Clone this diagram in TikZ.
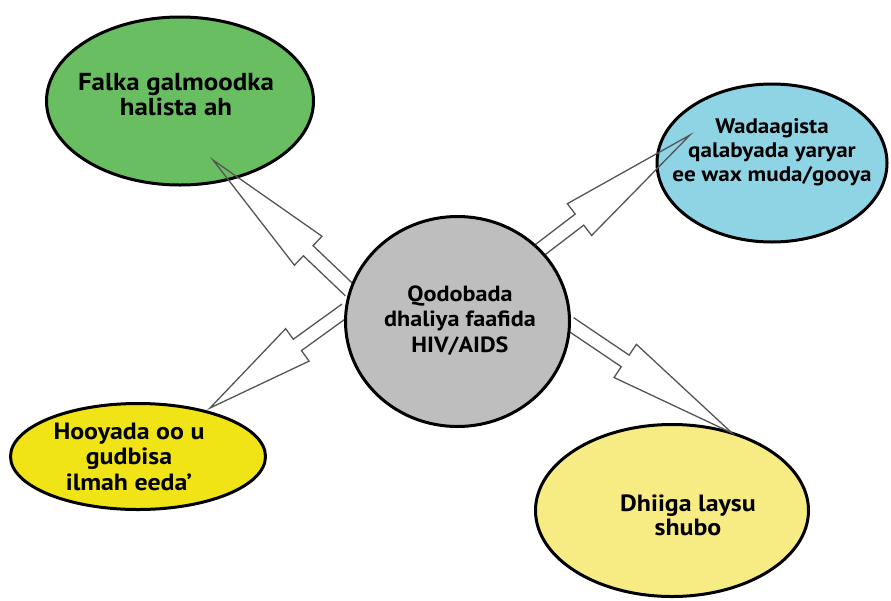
\documentclass[tikz,border=0pt]{standalone}
\usepackage{fontspec}
\setmainfont[FakeStretch=1.1]{PT Sans}
\usetikzlibrary{calc,shapes.geometric}
\definecolor{gfill}{RGB}{106,190,98}
\definecolor{bfill}{RGB}{142,212,228}
\definecolor{cfill}{RGB}{190,190,190}
\definecolor{yfill}{RGB}{240,228,22}
\definecolor{lyfill}{RGB}{247,236,132}
\definecolor{boltgray}{RGB}{85,85,85}
\tikzset{
  bubble/.style={ellipse, draw=black, line width=3pt, inner sep=0pt},
  bubbletext/.style={align=center, anchor=base, inner sep=0pt, text=black},
  bolt/.style={draw=boltgray, line width=1.3pt, line join=miter},
}
\newcommand\boltarrow[3]{%
  \draw[bolt] let \p1=(#1), \p2=(#2), \n1={atan2(\y2-\y1,\x2-\x1)} in
    ($(\p1)+(\n1+90:7pt)$) -- ($(\p1)+(\n1:#3)+(\n1+90:7pt)$)
    -- ($(\p1)+(\n1:#3)+(\n1+90:20pt)$) -- (\p2)
    -- ($(\p1)+(\n1:#3)+(\n1-90:20pt)$) -- ($(\p1)+(\n1:#3)+(\n1-90:7pt)$)
    -- ($(\p1)+(\n1-90:7pt)$);
}
\begin{document}
\begin{tikzpicture}[x=1pt,y=-1pt]
  \useasboundingbox[fill=white] (0,0) rectangle (891,600);
  % outer bubbles
  \node[bubble, fill=gfill, minimum width=267pt, minimum height=168pt] (g) at (180,101) {};
  \node[bubble, fill=bfill, minimum width=230pt, minimum height=158pt] (b) at (772,163) {};
  \node[bubble, fill=yfill, minimum width=255pt, minimum height=106pt] (y) at (138,456.5) {};
  \node[bubble, fill=lyfill, minimum width=273pt, minimum height=172pt] (ly) at (672,510.5) {};
  % arrow tips
  \coordinate (t1) at (213,160);
  \coordinate (t2) at (690,135);
  \coordinate (t3) at (210,408);
  \coordinate (t4) at (732,433);
  % centre circle (for anchors)
  \path node[ellipse, minimum width=224pt, minimum height=210pt, inner sep=0pt] (c) at (457.5,321.5) {};
  \boltarrow{c.164}{t1}{58pt}
  \boltarrow{c.41}{t2}{50pt}
  \boltarrow{c.174}{t3}{60pt}
  \boltarrow{c.-1}{t4}{67pt}
  \node[bubble, fill=cfill, minimum width=224pt, minimum height=210pt] (cc) at (c) {};
  % texts (anchored at the baseline of the last line)
  \node[bubbletext, font=\fontsize{24.5}{24.5}\selectfont\bfseries] (gt) at (176,115) {Falka galmoodka\\halista ah};
  \node[bubbletext, font=\fontsize{21}{24}\selectfont\bfseries] (bt) at (772,181) {Wadaagista\\qalabyada yaryar\\ee wax muda/gooya};
  \node[bubbletext, font=\fontsize{22}{25.5}\selectfont\bfseries] (ct) at (460,352) {Qodobada\\dhaliya faafida\\HIV/AIDS};
  \node[bubbletext, font=\fontsize{23.5}{25.5}\selectfont\bfseries] (yt) at (129,490) {Hooyada oo u\\gudbisa\\ilmah eeda'};
  \node[bubbletext, font=\fontsize{23.5}{24}\selectfont\bfseries] (lyt) at (688,535) {Dhiiga laysu\\shubo};
\end{tikzpicture}
\end{document}
